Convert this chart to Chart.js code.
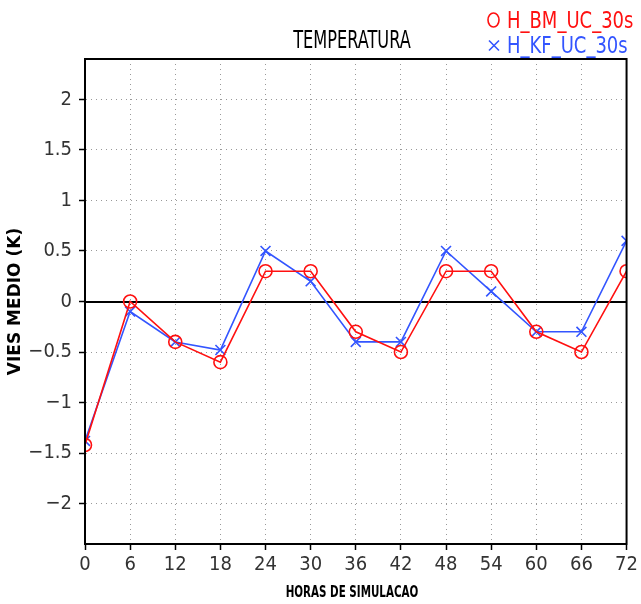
<!DOCTYPE html>
<html><head><meta charset="utf-8">
<script src="https://cdn.jsdelivr.net/npm/chart.js"></script>
<style>html,body{margin:0;padding:0;background:#fff}#wrap{width:641px;height:604px;position:relative}</style>
</head><body><div id="wrap"><canvas id="c" width="641" height="604"></canvas></div>
<script>
const hours = [0, 6, 12, 18, 24, 30, 36, 42, 48, 54, 60, 66, 72];
const bmValues = [-1.42, 0.0, -0.4, -0.6, 0.3, 0.3, -0.3, -0.5, 0.3, 0.3, -0.3, -0.5, 0.3];
const kfValues = [-1.38, -0.1, -0.4, -0.48, 0.5, 0.2, -0.4, -0.4, 0.5, 0.1, -0.3, -0.3, 0.6];
const yTickValues = [-2, -1.5, -1, -0.5, 0, 0.5, 1, 1.5, 2];
const seriesNames = ['H_BM_UC_30s', 'H_KF_UC_30s'];
const chartTitle = 'TEMPERATURA';
const xTitle = 'HORAS DE SIMULACAO';
const yTitle = 'VIES MEDIO (K)';

const RED = '#ff1010';
const BLUE = '#3355ff';
const NARROW = '"DejaVu Sans Condensed", "Liberation Sans Narrow", sans-serif';

const toPts = vals => hours.map((h, i) => ({x: h, y: vals[i]}));

function tallText(ctx, text, x, y, font, sy, align) {
  ctx.save();
  ctx.font = font;
  ctx.textAlign = align;
  ctx.textBaseline = 'alphabetic';
  ctx.translate(x, y);
  ctx.scale(1, sy);
  ctx.fillText(text, 0, 0);
  ctx.restore();
}

const decor = {
  id: 'decor',
  beforeDatasetsDraw(chart) {
    const {ctx, chartArea: a, scales: {y}} = chart;
    const y0 = Math.round(y.getPixelForValue(0));
    ctx.save();
    ctx.strokeStyle = '#000';
    ctx.lineWidth = 2;
    ctx.beginPath(); ctx.moveTo(a.left, y0); ctx.lineTo(a.right, y0); ctx.stroke();
    ctx.restore();
  },
  afterDatasetsDraw(chart) {
    const {ctx, chartArea: a} = chart;
    ctx.save();
    ctx.strokeStyle = '#000';
    ctx.lineWidth = 2;
    ctx.strokeRect(a.left, a.top, a.right - a.left, a.bottom - a.top);
    // title
    ctx.fillStyle = '#000';
    tallText(ctx, chartTitle, 352, 48, '18px ' + NARROW, 1.35, 'center');
    // x title
    tallText(ctx, xTitle, 352, 597, 'bold 11.5px ' + NARROW, 1.35, 'center');
    // legend
    ctx.lineWidth = 1.6;
    ctx.strokeStyle = RED;
    ctx.beginPath(); ctx.ellipse(493.5, 20, 5.5, 7, 0, 0, Math.PI * 2); ctx.stroke();
    ctx.fillStyle = RED;
    tallText(ctx, seriesNames[0], 507, 28, '20px ' + NARROW, 1.15, 'left');
    ctx.strokeStyle = BLUE;
    ctx.beginPath();
    ctx.moveTo(489, 40.5); ctx.lineTo(499, 50.5);
    ctx.moveTo(499, 40.5); ctx.lineTo(489, 50.5);
    ctx.stroke();
    ctx.fillStyle = BLUE;
    tallText(ctx, seriesNames[1], 507, 53, '20px ' + NARROW, 1.15, 'left');
    ctx.restore();
  }
};

new Chart(document.getElementById('c'), {
  type: 'line',
  data: {
    datasets: [
      {label: seriesNames[0], data: toPts(bmValues), borderColor: RED, borderWidth: 1.6,
       pointStyle: 'circle', pointRadius: 6.5, pointBorderWidth: 1.6, pointBorderColor: RED,
       pointBackgroundColor: 'rgba(0,0,0,0)', tension: 0, fill: false},
      {label: seriesNames[1], data: toPts(kfValues), borderColor: BLUE, borderWidth: 1.6,
       pointStyle: 'crossRot', pointRadius: 7, pointBorderWidth: 1.6, pointBorderColor: BLUE,
       pointBackgroundColor: BLUE, tension: 0, fill: false}
    ]
  },
  options: {
    responsive: false,
    animation: false,
    devicePixelRatio: 1,
    layout: {padding: {top: 59, right: 12, left: 0, bottom: 0}},
    plugins: {legend: {display: false}, title: {display: false}, tooltip: {enabled: false}},
    scales: {
      x: {
        type: 'linear', min: 0, max: 72,
        ticks: {stepSize: 6, color: '#333', font: {family: NARROW, size: 20}, padding: 3, maxRotation: 0, autoSkip: false},
        grid: {color: '#999', lineWidth: 1, tickColor: '#000', tickLength: 6, tickWidth: 1.5},
        border: {display: true, color: '#000', width: 2, dash: [1, 4]},
        title: {display: false},
        afterFit(s) { s.height = 60; }
      },
      y: {
        type: 'linear', min: -2.4, max: 2.4,
        afterBuildTicks(s) { s.ticks = yTickValues.map(v => ({value: v})); },
        ticks: {color: '#333', font: {family: NARROW, size: 20}, padding: 7,
          callback: v => (v < 0 ? '\u2212' : '') + String(Math.abs(v))},
        grid: {color: '#999', lineWidth: 1, tickColor: '#000', tickLength: 6, tickWidth: 1.5},
        border: {display: true, color: '#000', width: 2, dash: [1, 4]},
        title: {display: true, text: yTitle, color: '#000', font: {family: '"DejaVu Sans", sans-serif', size: 17, weight: 'bold'}, padding: {top: 5, bottom: 0}},
        afterFit(s) { s.width = 85; }
      }
    }
  },
  plugins: [decor]
});
</script>
</body></html>
